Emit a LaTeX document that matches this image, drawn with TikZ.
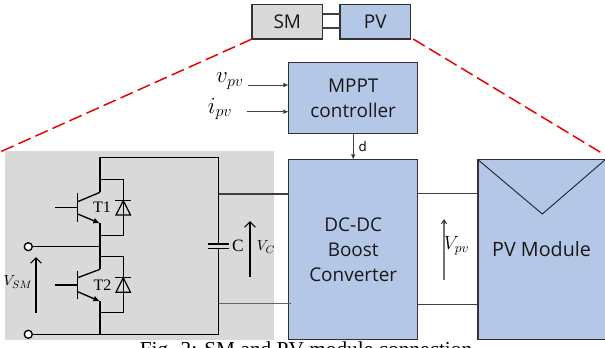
\documentclass[tikz,border=0pt]{standalone}
\usepackage{fontspec}
\setmainfont{Liberation Serif}
\newfontfamily\boxfont{Open Sans}
\usetikzlibrary{arrows.meta}
\definecolor{blu}{RGB}{180,199,231}
\definecolor{gr}{RGB}{217,217,217}
\definecolor{edge}{RGB}{50,50,50}
\tikzset{
 x=0.75pt,y=-0.75pt,
 block/.style={draw=edge,line width=0.9pt,fill=blu,font=\boxfont\fontsize{14.2}{18.7}\selectfont,align=center,text=black!90,inner sep=0pt,outer sep=0pt,anchor=north west},
 wire/.style={line width=0.8pt,draw=black!75},
 ckt/.style={line width=1pt,draw=black},
 thin arrow/.style={line width=0.7pt,draw=black!75,-{Latex[length=4pt,width=3.5pt]}},
 redd/.style={draw=red!90!black,line width=1.1pt,dash pattern=on 10pt off 4pt},
 term/.style={circle,draw=black,line width=1pt,fill=white,inner sep=0pt,minimum size=6pt},
 lab/.style={inner sep=0pt,font=\fontsize{10}{12}\selectfont},
 mlab/.style={inner sep=0pt,font=\fontsize{17}{20}\selectfont},
 diode/.style={line width=0.9pt,draw=black},
}
\begin{document}
\begin{tikzpicture}
\useasboundingbox (0,0) rectangle (605,347);
\clip (0,0) rectangle (605,347);
\fill[gr] (5,151) rectangle (274,340);
% top blocks
\node[block,fill=gr,minimum width=52.9pt,minimum height=25.9pt] (sm) at (252,4.5) {SM};
\node[block,minimum width=52.9pt,minimum height=25.9pt] (pv) at (340,4.5) {PV};
\coordinate (l1) at (330,14); \coordinate (l2) at (330,28);
\draw[wire] (l1-|sm.east) -- (l1-|pv.west);
\draw[wire] (l2-|sm.east) -- (l2-|pv.west);
% red
\coordinate (r1) at (0,152);
\coordinate (r2) at (605,155);
\draw[redd] (sm.south west) -- (r1);
\draw[redd] ([xshift=2pt]pv.south east) -- (r2);
% MPPT
\node[block,minimum width=96.75pt,minimum height=53pt] (mppt) at (288.7,62.7) {MPPT\\controller};
\node[block,minimum width=96.75pt,minimum height=134.7pt] (dc) at (288.7,159.7) {DC-DC\\Boost\\Converter};
\node[block,minimum width=95.4pt,minimum height=134.7pt,font=\boxfont\fontsize{14.8}{18.7}\selectfont] (mod) at (478,159.7) {PV Module};
\coordinate (vtip) at (542.3,214);
\draw[line width=0.7pt,black!85] (mod.north west) -- (vtip) -- (mod.north east);
\coordinate (v1) at (247.7,85);
\coordinate (i1) at (246.7,111.7);
\draw[thin arrow] (v1) -- (v1-|mppt.west);
\draw[thin arrow] (i1) -- (i1-|mppt.west);
\node[mlab] (vpvt) at (230,81) {$v_{pv}$};
\node[mlab] (ipvt) at (220,109) {$i_{pv}$};
\draw[thin arrow] (mppt.south) -- (dc.north);
\node[lab,font=\boxfont\fontsize{10}{12}\selectfont] (d) at (362.7,146.5) {d};
% links
\coordinate (a1) at (218.5,194); \coordinate (a2) at (218.5,303.5);
\draw[wire] (a1) -- (a1-|dc.west);
\draw[line width=1.1pt,black!60] (a2) -- ([xshift=1.5pt]a2-|dc.west);
\coordinate (b1) at (418,193.5); \coordinate (b2) at (418,304.5);
\draw[wire] (b1-|dc.east) -- (b1-|mod.west);
\draw[wire] (b2-|dc.east) -- (b2-|mod.west);
\coordinate (va) at (444,280); \coordinate (vb) at (444,219);
\draw[line width=1.1pt,black!55] (va) -- (444,221);
\draw[line width=0.7pt,black!80,-{Straight Barb[length=3pt,width=4pt]}] (444,224) -- (vb);
\node[inner sep=0pt,font=\fontsize{14}{16}\selectfont] (vpvl) at (456.5,246) {$V_{pv}$};
% circuit
\node[term] (t1) at (28.3,246.7) {};
\node[term] (t2) at (28.3,334.3) {};
\coordinate (mid) at (100,246.7);
\coordinate (bl) at (100,334.3); \coordinate (br) at (218.5,334.3);
\coordinate (tl) at (100,157.7); \coordinate (tr) at (218.5,157.7);
\draw[ckt] (t1) -- (mid);
\draw[ckt] (t2) -- (bl) -- (br) -- (218.5,248.7);
\draw[ckt] (218.5,244) -- (tr) -- (tl) -- (100,192.3);
% capacitor
\draw[ckt] (208,244) -- (229,244) (208,248.7) -- (229,248.7);
\node[lab,font=\fontsize{13}{15}\selectfont] (clab) at (238,246) {C};
% T1
\draw[ckt] (100,179.3) -- (123.3,179.3) -- (123.3,235.3) -- (100,235.3);
\draw[ckt] (100,192.3) -- (77.7,201.7);
\draw[ckt] (77.7,193.3) -- (77.7,221.7);
\draw[ckt] (55,207.3) -- (77.7,207.3);
\draw[ckt,-{Latex[length=5pt,width=4.5pt]}] (77.7,214) -- (100,223.3);
\draw[ckt] (100,223.3) -- (100,269.3);
\draw[ckt] (100,256.7) -- (123.3,256.7) -- (123.3,312.7) -- (100,312.7);
\node[lab,font=\fontsize{12}{14}\selectfont] (t1l) at (102,207.7) {T1};
\draw[diode] (115,200.7) -- (131,200.7);
\draw[diode] (123.3,200.7) -- (116,215) -- (130.5,215) -- cycle;
% T2
\draw[ckt] (100,269.3) -- (77.7,277.7);
\draw[ckt] (77.7,270.7) -- (77.7,299.3);
\draw[ckt] (55,285) -- (77.7,285);
\draw[ckt,-{Latex[length=5pt,width=4.5pt]}] (77.7,291.7) -- (100,301.3);
\draw[ckt] (100,301.3) -- (100,334.3);
\node[lab,font=\fontsize{12}{14}\selectfont] (t2l) at (102.5,285) {T2};
\draw[diode] (115,277.7) -- (131,277.7);
\draw[diode] (123.3,277.7) -- (116,292.3) -- (130.5,292.3) -- cycle;
% arrows
\coordinate (s1) at (36,313); \coordinate (s2) at (36,257);
\draw[line width=0.9pt,-{Straight Barb[length=4pt,width=8pt]}] (s1) -- (s2);
\node[lab,font=\fontsize{11}{13}\selectfont] (vsm) at (18,282) {$V_{SM}$};
\coordinate (c1a) at (250,277); \coordinate (c2a) at (250,221);
\draw[line width=0.9pt,-{Straight Barb[length=4pt,width=8pt]}] (c1a) -- (c2a);
\node[lab,font=\fontsize{11}{13}\selectfont] (vc) at (266,247) {$V_C$};
\node[inner sep=0pt,font=\fontsize{16}{18}\selectfont,anchor=base] (cap) at (306,356.5) {Fig. 2: SM and PV module connection};
\end{tikzpicture}
\end{document}
